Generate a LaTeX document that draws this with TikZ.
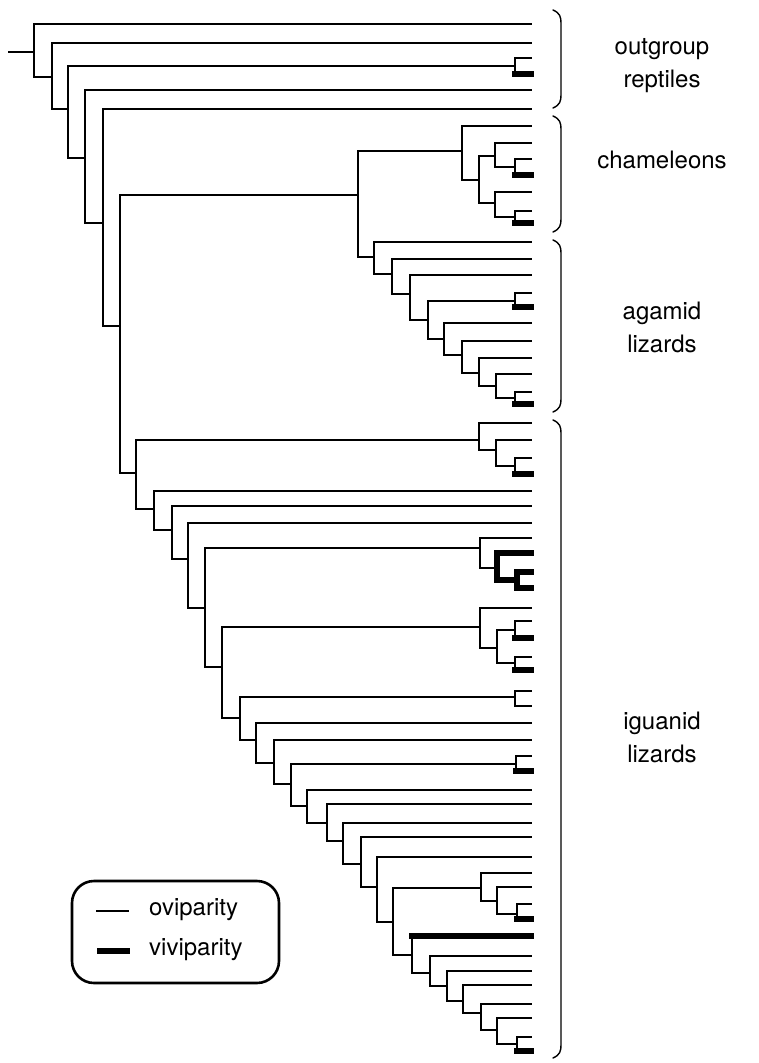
\documentclass[tikz,border=0pt]{standalone}
\usepackage{fontspec}
\setmainfont{TeX Gyre Heros}
\begin{document}
\begin{tikzpicture}[x=1pt,y=-1pt,
  br/.style={line width=1.4pt, line cap=rect, black},
  viv/.style={line width=6pt, line cap=rect, black},
  brc/.style={line width=1.4pt, black, line cap=round},
  lab/.style={font=\fontsize{24}{33}\selectfont, align=center, inner sep=0pt},
  legtext/.style={font=\fontsize{24}{28}\selectfont, anchor=west, inner sep=0pt}]
\path[use as bounding box] (0,0) rectangle (758,1063);
% ---- leaves ----
\foreach \n/\y in {a1/24,a2/43,a3/58,a4/74,a5/90,a6/109,
  c1/126,c2/143,c3/159,c4/175,c5/192,c6/211,c7/223,
  g1/242,g2/259,g3/275,g4/293,g5/307,g6/323,g7/341,g8/358,g9/374,g10/392,g11/404,
  i1/423,i2/440,i3/458,i4/474,i5/491,i6/506,i7/523,i8/538,i9/553,i10/572,i11/588,
  i12/608,i13/621,i14/638,i15/657,i16/670,i17/691,i18/706,i19/723,i20/740,
  i21/756,i22/771,i23/790,i24/804,i25/823,i26/837,i27/857,i28/873,i29/887,
  i30/904,i31/919,i32/936,i33/956,i34/971,i35/985,i36/1004,i37/1018,i38/1037,i39/1051}
  {\coordinate (\n) at (531,\y);}
% ---- internal nodes ----
\coordinate (R) at (9,52);
\coordinate (N1) at (34,52);   \coordinate (N2) at (52,77);
\coordinate (N3) at (68,109);  \coordinate (P1) at (515,66);
\coordinate (N4) at (85,158);  \coordinate (N5) at (103,223);
\coordinate (N6) at (120,326); \coordinate (CA) at (358,195);
\coordinate (CH) at (462,151); \coordinate (CH2) at (479,180);
\coordinate (CH3) at (495,156);\coordinate (P2) at (515,167);
\coordinate (CH4) at (495,203);\coordinate (P3) at (515,217);
\coordinate (AG) at (374,257); \coordinate (AG2) at (392,274);
\coordinate (AG3) at (410,294);\coordinate (AG4) at (428,320);
\coordinate (P4) at (515,301); \coordinate (AG5) at (444,339);
\coordinate (AG6) at (462,355);\coordinate (AG7) at (479,373);
\coordinate (AG8) at (496,386);\coordinate (P5) at (515,398);
\coordinate (N7) at (136,473); \coordinate (IG1) at (479,440);
\coordinate (IG2) at (496,450);\coordinate (P6) at (515,466);
\coordinate (N8) at (154,509); \coordinate (N9) at (172,530);
\coordinate (N10) at (188,559);\coordinate (N11) at (205,608);
\coordinate (IG3) at (480,548);\coordinate (T1) at (497,568);
\coordinate (P7) at (517,580); \coordinate (N12) at (222,667);
\coordinate (IG4) at (480,627);\coordinate (IG5) at (497,648);
\coordinate (P8) at (515,630); \coordinate (P9) at (515,663);
\coordinate (N13) at (240,718);\coordinate (P10) at (515,697);
\coordinate (N14) at (256,740);\coordinate (N15) at (274,763);
\coordinate (N16) at (291,784);\coordinate (P11) at (516,764);
\coordinate (N17) at (307,806);\coordinate (N18) at (327,823);
\coordinate (N19) at (343,841);\coordinate (N20) at (361,864);
\coordinate (N21) at (377,887);\coordinate (N22) at (393,922);
\coordinate (IG6) at (481,888);\coordinate (IG7) at (497,901);
\coordinate (P12) at (517,914);\coordinate (N23) at (412,955);
\coordinate (N24) at (430,973);\coordinate (N25) at (447,986);
\coordinate (N26) at (463,1001);\coordinate (N27) at (481,1013);
\coordinate (N28) at (497,1030);\coordinate (P13) at (517,1044);
% ---- thin branches ----
\draw[br] (R) -- (N1);
\foreach \p/\c in {N1/a1,N1/N2,N2/a2,N2/N3,N3/P1,N3/N4,P1/a3,N4/a5,N4/N5,N5/a6,N5/N6,
  N6/CA,N6/N7,CA/CH,CA/AG,CH/c1,CH/CH2,CH2/CH3,CH2/CH4,CH3/c2,CH3/P2,P2/c3,CH4/c5,CH4/P3,P3/c6,
  AG/g1,AG/AG2,AG2/g2,AG2/AG3,AG3/g3,AG3/AG4,AG4/P4,AG4/AG5,P4/g4,AG5/g6,AG5/AG6,AG6/g7,AG6/AG7,
  AG7/g8,AG7/AG8,AG8/g9,AG8/P5,P5/g10,
  N7/IG1,N7/N8,IG1/i1,IG1/IG2,IG2/i2,IG2/P6,P6/i3,N8/i5,N8/N9,N9/i6,N9/N10,N10/i7,N10/N11,
  N11/IG3,N11/N12,IG3/i8,IG3/T1,N12/IG4,N12/N13,IG4/i12,IG4/IG5,IG5/P8,IG5/P9,P8/i13,P9/i15,
  N13/P10,N13/N14,P10/i17,P10/i18,N14/i19,N14/N15,N15/i20,N15/N16,N16/P11,N16/N17,P11/i21,
  N17/i23,N17/N18,N18/i24,N18/N19,N19/i25,N19/N20,N20/i26,N20/N21,N21/i27,N21/N22,
  N22/IG6,N22/N23,IG6/i28,IG6/IG7,IG7/i29,IG7/P12,P12/i30,
  N24/i33,N23/N24,N24/N25,N25/i34,N25/N26,N26/i35,N26/N27,N27/i36,N27/N28,N28/i37,N28/P13,P13/i38}
  {\draw[br] (\p) |- (\c);}
% ---- viviparous leaves ----
\foreach \p/\c in {P1/a4,P2/c4,P3/c7,P4/g5,P5/g11,P6/i4,P8/i14,P9/i16,P11/i22,P12/i31,N23/i32,P13/i39}
  {\draw[br] (\p) -- (\p |- \c); \draw[viv] (\p |- \c) -- (\c);}
\draw[viv] (T1) |- (i9);
\draw[viv] (T1) |- (P7);
\draw[viv] (P7) |- (i10);
\draw[viv] (P7) |- (i11);
% ---- braces ----
\foreach \t/\b in {10/108,116/232,240/412,420/1058}{
  \draw[brc] (553,\t) .. controls (560,\t+3) and (561,\t+7) .. (561,\t+13)
    -- (561,\b-13) .. controls (561,\b-7) and (560,\b-3) .. (553,\b);}
% ---- group labels ----
\node[lab] (og) at (662,66) {outgroup\\reptiles};
\node[lab] (ch) at (662,160) {chameleons};
\node[lab] (ag) at (662,327) {agamid\\lizards};
\node[lab] (ig) at (662,737) {iguanid\\lizards};
% ---- legend ----
\node[draw, line width=2.6pt, rounded corners=22pt, minimum width=207pt, minimum height=102pt, inner sep=0pt] (legend) at (175.5,932) {};
\coordinate (o1) at (96,911); \coordinate (o2) at (129,911);
\coordinate (v1) at (97,951); \coordinate (v2) at (130,951);
\draw[line width=1.2pt] (o1) -- (o2);
\draw[line width=6.5pt] (v1) -- (v2);
\node[legtext] (ovi) at (149,910) {oviparity};
\node[legtext] (vivi) at (149,950) {viviparity};
\end{tikzpicture}
\end{document}
